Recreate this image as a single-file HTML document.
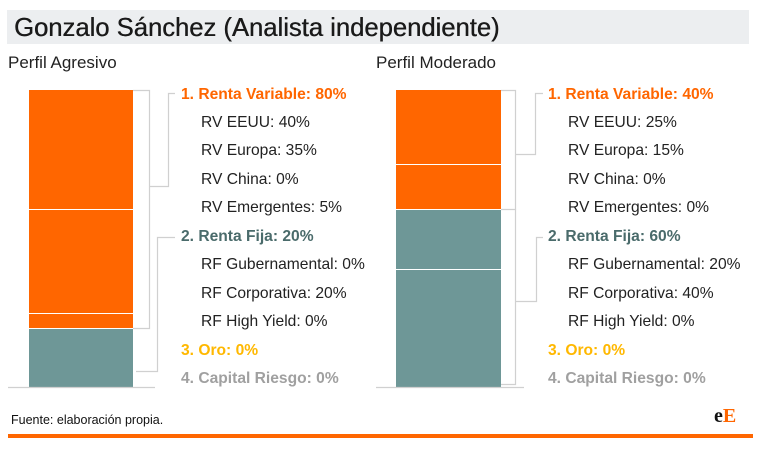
<!DOCTYPE html>
<html><head><meta charset="utf-8"><style>
body{margin:0;width:770px;height:454px;background:#fff;font-family:"Liberation Sans",sans-serif;position:relative;overflow:hidden}
div,span{position:absolute;white-space:nowrap}
.t{font-size:15.6px;color:#222;line-height:18px}
.h{font-weight:bold}
</style></head><body>
<div style="left:7px;top:10px;width:742px;height:34px;background:#eceef0"></div>
<div style="left:14px;top:10px;font-size:26px;line-height:34px;color:#1a1a1a;transform:scaleX(0.985);transform-origin:left;text-shadow:0.4px 0 0 #1a1a1a">Gonzalo Sánchez (Analista independiente)</div>
<div style="left:8px;top:53px;font-size:17px;color:#222">Perfil Agresivo</div>
<div style="left:376px;top:53px;font-size:17px;color:#222">Perfil Moderado</div>
<svg style="position:absolute;left:0;top:0" width="770" height="454">
<g fill="#ff6600">
<rect x="29" y="90" width="104" height="119"/><rect x="29" y="210" width="104" height="103"/><rect x="29" y="314" width="104" height="14"/>
<rect x="396" y="90" width="105" height="74"/><rect x="396" y="165" width="105" height="44"/>
</g>
<g fill="#6e9797">
<rect x="29" y="329" width="104" height="58"/>
<rect x="396" y="210" width="105" height="59"/><rect x="396" y="270" width="105" height="117"/>
</g>
<g stroke="#d0d0d0" stroke-width="1.2" fill="none">
<line x1="8" y1="387.5" x2="155" y2="387.5"/><line x1="376" y1="387.5" x2="524" y2="387.5"/>
<polyline points="133,90.5 149.5,90.5 149.5,328.5 133,328.5"/>
<polyline points="149.5,186.5 168.5,186.5 168.5,93.5 175,93.5"/>
<polyline points="136,371.5 157.5,371.5 157.5,237.5 175,237.5"/>
<polyline points="501,90.5 515.5,90.5 515.5,209.5 501,209.5"/>
<polyline points="515.5,154.5 535.5,154.5 535.5,93.5 543,93.5"/>
<polyline points="501,384.5 515.5,384.5 515.5,209.5"/>
<polyline points="515.5,301.5 536.5,301.5 536.5,237.5 543,237.5"/>
</g>
</svg>
<div class="t h" style="left:181px;top:86px;color:#ff6600">1. Renta Variable: 80%</div>
<div class="t" style="left:201px;top:114px">RV EEUU: 40%</div>
<div class="t" style="left:201px;top:142px">RV Europa: 35%</div>
<div class="t" style="left:201px;top:171px">RV China: 0%</div>
<div class="t" style="left:201px;top:199px">RV Emergentes: 5%</div>
<div class="t h" style="left:181px;top:228px;color:#4a6b6b">2. Renta Fija: 20%</div>
<div class="t" style="left:201px;top:256px">RF Gubernamental: 0%</div>
<div class="t" style="left:201px;top:285px">RF Corporativa: 20%</div>
<div class="t" style="left:201px;top:313px">RF High Yield: 0%</div>
<div class="t h" style="left:181px;top:342px;color:#ffb800">3. Oro: 0%</div>
<div class="t h" style="left:181px;top:370px;color:#a0a0a0">4. Capital Riesgo: 0%</div>

<div class="t h" style="left:548px;top:86px;color:#ff6600">1. Renta Variable: 40%</div>
<div class="t" style="left:568px;top:114px">RV EEUU: 25%</div>
<div class="t" style="left:568px;top:142px">RV Europa: 15%</div>
<div class="t" style="left:568px;top:171px">RV China: 0%</div>
<div class="t" style="left:568px;top:199px">RV Emergentes: 0%</div>
<div class="t h" style="left:548px;top:228px;color:#4a6b6b">2. Renta Fija: 60%</div>
<div class="t" style="left:568px;top:256px">RF Gubernamental: 20%</div>
<div class="t" style="left:568px;top:285px">RF Corporativa: 40%</div>
<div class="t" style="left:568px;top:313px">RF High Yield: 0%</div>
<div class="t h" style="left:548px;top:342px;color:#ffb800">3. Oro: 0%</div>
<div class="t h" style="left:548px;top:370px;color:#a0a0a0">4. Capital Riesgo: 0%</div>

<div style="left:11px;top:413px;font-size:12.5px;color:#111">Fuente: elaboración propia.</div>
<div style="left:714px;top:405px;font-family:'Liberation Serif',serif;font-weight:bold;font-size:20px;color:#111">e<span style="position:static;color:#ff6600">E</span></div>
<div style="left:8px;top:434px;width:745px;height:4px;background:#ff6600"></div>
</body></html>
